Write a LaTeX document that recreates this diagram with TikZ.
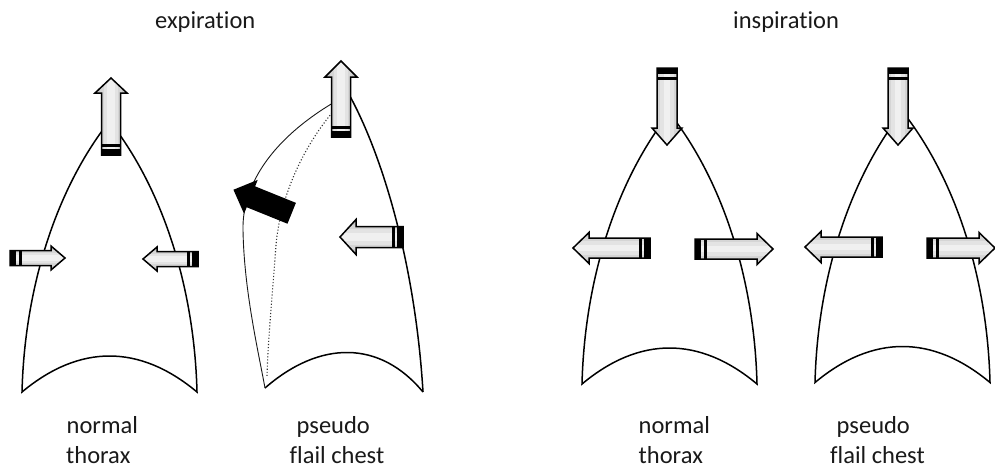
\documentclass[tikz,border=0pt]{standalone}
\usepackage{fontspec}
\setmainfont{Carlito}[Ligatures={NoCommon,NoContextual}]
\begin{document}
\begin{tikzpicture}[x=1pt,y=-1pt,
  outline/.style={line width=1.5pt,line join=miter,black},
  flail/.style={line width=0.9pt,black!90},
  flaildots/.style={line width=1.1pt,dotted,black!80},
  arrowline/.style={line width=1.5pt,line join=miter,black},
  shadeA/.style={fill=gray!45},
  shadeB/.style={fill=gray!33},
  shadeC/.style={fill=gray!22},
  shadeD/.style={fill=gray!12},
  lbl/.style={font=\fontsize{24.5}{30}\selectfont,inner sep=0pt,anchor=base west,text=black!90},
  thorax/.pic={
    \draw[outline] (-87.5,0) .. controls (-85,-101) and (-55,-201) .. (0,-271)
                             .. controls (55,-201) and (85,-101) .. (87.5,0)
                             .. controls (30,-48) and (-30,-48) .. cycle;
  }]
% light arrow with banded tail:
% tail x, tail y, direction, length, shaft half width, head half width, head length
\newcommand\bandarrow[7]{%
  \begin{scope}[shift={(#1,#2)},rotate=#3]
    \begin{scope}
      \clip (0,-#5) -- (#4-#7,-#5) -- (#4-#7,-#6) -- (#4,0) -- (#4-#7,#6) -- (#4-#7,#5) -- (0,#5) -- cycle;
      \path[shadeA] (0,-#6) rectangle (#4,#6);
      \path[shadeB] (0,-0.7*#6) rectangle (#4,0.7*#6);
      \path[shadeC] (0,-0.45*#6) rectangle (#4,0.45*#6);
      \path[shadeD] (0,-0.22*#6) rectangle (#4,0.22*#6);
      \fill[black] (0,-#5) rectangle (6,#5);
      \fill[black] (8.5,-#5) rectangle (11.5,#5);
    \end{scope}
    \draw[arrowline] (0,-#5) -- (#4-#7,-#5) -- (#4-#7,-#6) -- (#4,0) -- (#4-#7,#6) -- (#4-#7,#5) -- (0,#5) -- cycle;
  \end{scope}}
% solid black arrow
\newcommand\solidarrow[7]{%
  \begin{scope}[shift={(#1,#2)},rotate=#3]
    \filldraw[arrowline] (0,-#5) -- (#4-#7,-#5) -- (#4-#7,-#6) -- (#4,0) -- (#4-#7,#6) -- (#4-#7,#5) -- (0,#5) -- cycle;
  \end{scope}}

\useasboundingbox (0,0) rectangle (995,469);
\fill[white] (0,0) rectangle (995,469);

% headings
\node[lbl] (expi) at (155,28) {expiration};
\node[lbl] (inspi) at (733,28) {inspiration};

% outlines
\pic (thA) at (109.5,392) {thorax};
\pic (thC) at (669.5,384) {thorax};
\pic (thD) at (902.5,382.5) {thorax};

% pseudo flail chest in expiration
\draw[outline] (343,84) .. controls (380,145) and (415,260) .. (423,392);
\draw[outline] (265,388) .. controls (320,340) and (380,340) .. (423,392);
\draw[flail] (338,100) .. controls (272,138) and (242,185) .. (243,230)
             .. controls (244,290) and (258,350) .. (265,388);
\draw[flaildots] (336,108) .. controls (300,150) and (280,200) .. (276,245)
                 .. controls (272,300) and (268,340) .. (267,376);

% arrows: normal thorax, expiration
\bandarrow{111}{155}{90}{77}{9.5}{16}{15}
\bandarrow{10}{258}{0}{55}{7.5}{12}{14}
\bandarrow{198}{259}{180}{55}{7.5}{12}{14}

% arrows: pseudo flail chest, expiration
\bandarrow{341}{137}{90}{76}{9.5}{16}{16}
\bandarrow{403}{237}{180}{63}{10.5}{17.5}{16}
\solidarrow{291}{213}{158}{61}{10.5}{16.5}{17}

% arrows: normal thorax, inspiration
\bandarrow{667}{68}{-90}{77}{10}{15}{17}
\bandarrow{650}{248}{180}{77}{10}{15.5}{16}
\bandarrow{695}{249}{0}{78}{10}{15.5}{16}

% arrows: pseudo flail chest, inspiration
\bandarrow{898}{68}{-90}{77}{10}{15}{17}
\bandarrow{882}{247}{180}{77}{10}{15.5}{16}
\bandarrow{927}{248}{0}{68}{10}{15.5}{16}

% captions
\node[lbl] (capAa) at (66.5,433) {normal};
\node[lbl] (capAb) at (66,463) {thorax};
\node[lbl] (capBa) at (296.5,433) {pseudo};
\node[lbl] (capBb) at (289.5,463) {flail chest};
\node[lbl] (capCa) at (638.5,433) {normal};
\node[lbl] (capCb) at (638.5,463) {thorax};
\node[lbl] (capDa) at (836.5,433) {pseudo};
\node[lbl] (capDb) at (830,463) {flail chest};
\end{tikzpicture}
\end{document}
